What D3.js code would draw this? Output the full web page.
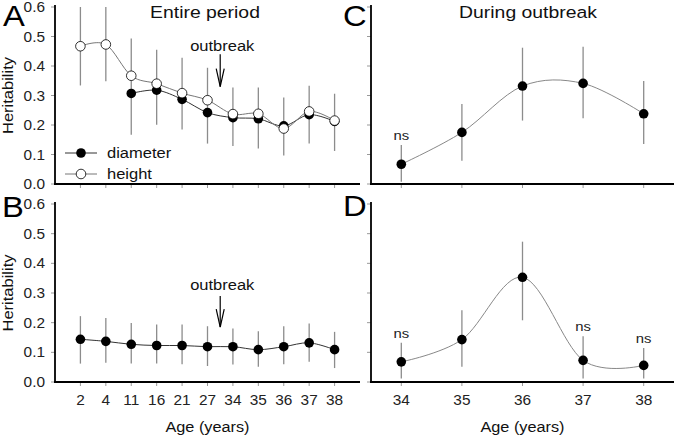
<!DOCTYPE html>
<html><head><meta charset="utf-8">
<script src="https://cdn.jsdelivr.net/npm/d3@7"></script>
<style>body{margin:0;background:#fff}svg{display:block;font-family:"Liberation Sans",Arial,sans-serif}</style>
</head><body>
<svg id="c" width="677" height="437"></svg>
<script>
// ---------- data ----------
const ages = ["2","4","11","16","21","27","34","35","36","37","38"];
const heightA   = [0.467,0.473,0.367,0.340,0.308,0.284,0.237,0.238,0.188,0.246,0.215];
const diameterA = [null,null,0.307,0.318,0.287,0.242,0.225,0.221,0.197,0.235,0.212];
const errLowA   = [0.334,0.348,0.167,0.201,0.185,0.137,0.129,0.120,0.097,0.137,0.112];
const errHighA  = [0.600,0.600,0.493,0.455,0.428,0.394,0.327,0.327,0.293,0.333,0.306];

const valuesB   = [0.144,0.137,0.127,0.123,0.123,0.119,0.119,0.109,0.119,0.132,0.109];
const errLowB   = [0.062,0.065,0.062,0.062,0.060,0.054,0.059,0.051,0.060,0.068,0.047];
const errHighB  = [0.222,0.216,0.199,0.194,0.194,0.188,0.180,0.171,0.188,0.197,0.169];

const outbreakAges = ["34","35","36","37","38"];
const valuesC   = [0.067,0.175,0.332,0.341,0.238];
const errLowC   = [0.008,0.079,0.215,0.223,0.136];
const errHighC  = [0.132,0.271,0.462,0.465,0.349];
const nsC       = [true,false,false,false,false];

const valuesD   = [0.068,0.143,0.353,0.073,0.056];
const errLowD   = [0.012,0.051,0.208,0.012,0.012];
const errHighD  = [0.132,0.242,0.473,0.154,0.115];
const nsD       = [true,false,false,true,true];

const yTicks = [0,0.1,0.2,0.3,0.4,0.5,0.6];
const yTickLabels = ["0.0","0.1","0.2","0.3","0.4","0.5","0.6"];

// ---------- drawing ----------
const svg = d3.select("#c");
const AX = "#000", ERR = "#8c8c8c", TICK = "#999", SX = 1.1;

function txt(g, x, y, s, size, anchor, opts={}){
  const t = g.append("text")
    .attr("transform", `translate(${x},${y})${opts.rot?` rotate(${opts.rot})`:""} scale(${opts.sx||SX},1)`)
    .attr("text-anchor", anchor||"start").attr("font-size", size).attr("fill", opts.fill||"#111")
    .text(s);
  if (opts.dy) t.attr("dy", opts.dy);
  return t;
}

function panel(o){
  const g = svg.append("g");
  const x = d3.scalePoint().domain(o.cats).range([o.x0, o.x1]).padding(o.pad);
  const y = d3.scaleLinear().domain([0,0.6]).range([o.yb, o.yt]);
  // y ticks
  g.selectAll(".yt").data(yTicks).join("line")
    .attr("x1", o.x0-4).attr("x2", o.x0).attr("y1", d=>y(d)).attr("y2", d=>y(d))
    .attr("stroke", TICK).attr("stroke-width",1);
  if (o.yLabels){
    yTicks.forEach((d,i)=>txt(g, o.x0-10, y(d), yTickLabels[i], 14, "end", {dy:"0.36em", fill:"#222"}));
    txt(g, 13, y(0.3), "Heritability", 15, "middle", {rot:-90});
  }
  // x ticks
  g.selectAll(".xt").data(o.cats).join("line")
    .attr("x1", d=>x(d)).attr("x2", d=>x(d)).attr("y1", o.yb).attr("y2", o.yb+4)
    .attr("stroke", TICK).attr("stroke-width",1);
  if (o.xLabels){
    o.cats.forEach(d=>txt(g, x(d), o.yb+23, d, 14, "middle", {fill:"#222"}));
    txt(g, (o.x0+o.x1)/2, o.yb+50, "Age (years)", 15.5, "middle", {sx:1.05});
  }
  // axes lines
  g.append("line").attr("x1",o.x0).attr("x2",o.x0).attr("y1",o.yt-2).attr("y2",o.yb+1)
    .attr("stroke",AX).attr("stroke-width",1.8);
  g.append("line").attr("x1",o.x0-1).attr("x2",o.x1).attr("y1",o.yb).attr("y2",o.yb)
    .attr("stroke",AX).attr("stroke-width",1.8);
  // error bars
  g.selectAll(".eb").data(o.cats).join("line")
    .attr("x1", d=>x(d)).attr("x2", d=>x(d))
    .attr("y1",(d,i)=>y(o.lo[i])).attr("y2",(d,i)=>y(o.hi[i]))
    .attr("stroke", ERR).attr("stroke-width",1.3);
  // series
  o.series.forEach(s=>{
    const pts = o.cats.map((c,i)=>({c, v:s.values[i]})).filter(p=>p.v!=null);
    g.append("path").datum(pts)
      .attr("d", d3.line().x(p=>x(p.c)).y(p=>y(p.v)).curve(s.curve))
      .attr("fill","none").attr("stroke", s.line).attr("stroke-width",1);
    g.selectAll(null).data(pts).join("circle")
      .attr("cx",p=>x(p.c)).attr("cy",p=>y(p.v)).attr("r",4.8)
      .attr("fill", s.fill).attr("stroke","#000").attr("stroke-width", s.fill==="#fff"?0.8:0);
  });
  // ns labels
  if (o.ns){
    o.cats.forEach((c,i)=>{ if (o.ns[i]) txt(g, x(c), y(o.hi[i])-5, "ns", 13.5, "middle", {fill:"#222"}); });
  }
  // outbreak arrow
  if (o.arrow){
    const ax = (x("27")+x("34"))/2;
    txt(g, ax+2, y(o.arrow[0]), "outbreak", 15, "middle");
    const t = y(o.arrow[1]), b = y(o.arrow[2]);
    g.append("line").attr("x1",ax).attr("x2",ax).attr("y1",t).attr("y2",b).attr("stroke","#000").attr("stroke-width",1.2);
    g.append("path").attr("d",`M${ax-4},${b-18}L${ax},${b}L${ax+4},${b-18}`)
      .attr("fill","none").attr("stroke","#000").attr("stroke-width",1.2);
  }
  // legend
  if (o.legend){
    o.series.forEach((s,i)=>{
      const ly = o.legendY[i];
      g.append("line").attr("x1",65).attr("x2",97).attr("y1",ly).attr("y2",ly).attr("stroke",s.line).attr("stroke-width",1);
      g.append("circle").attr("cx",81).attr("cy",ly).attr("r",4.8).attr("fill",s.fill)
        .attr("stroke","#000").attr("stroke-width", s.fill==="#fff"?0.8:0);
      txt(g, 107, ly, s.name, 15, "start", {dy:"0.35em"});
    });
  }
  // panel letter & title
  txt(g, o.letterX, o.letterY, o.letter, 29, "start", {fill:"#000", sx:1.13});
  if (o.title) txt(g, o.titleX, 18, o.title, 17, "middle", {sx:1.14});
}

const cr = d3.curveCardinal.tension(0);
panel({cats:ages, x0:55, x1:360, pad:1.0, yt:7, yb:184, yLabels:true, letter:"A", letterX:3, letterY:26,
  title:"Entire period", titleX:205, lo:errLowA, hi:errHighA, arrow:[0.45,0.44,0.33],
  legend:true, legendY:[153,174],
  series:[{name:"diameter", values:diameterA, fill:"#000", line:"#333", curve:cr},
          {name:"height", values:heightA, fill:"#fff", line:"#777", curve:cr}]});
panel({cats:ages, x0:55, x1:360, pad:1.0, yt:204, yb:382, yLabels:true, xLabels:true, letter:"B", letterX:2, letterY:216.5,
  lo:errLowB, hi:errHighB, arrow:[0.31,0.29,0.185],
  series:[{name:"diameter", values:valuesB, fill:"#000", line:"#333", curve:cr}]});
panel({cats:outbreakAges, x0:371, x1:674, pad:0.5, yt:7, yb:184, letter:"C", letterX:343, letterY:26,
  title:"During outbreak", titleX:528, lo:errLowC, hi:errHighC, ns:nsC,
  series:[{name:"diameter", values:valuesC, fill:"#000", line:"#888", curve:cr}]});
panel({cats:outbreakAges, x0:371, x1:674, pad:0.5, yt:204, yb:382, xLabels:true, letter:"D", letterX:343, letterY:215.5,
  lo:errLowD, hi:errHighD, ns:nsD,
  series:[{name:"diameter", values:valuesD, fill:"#000", line:"#888", curve:cr}]});
</script>
</body></html>
